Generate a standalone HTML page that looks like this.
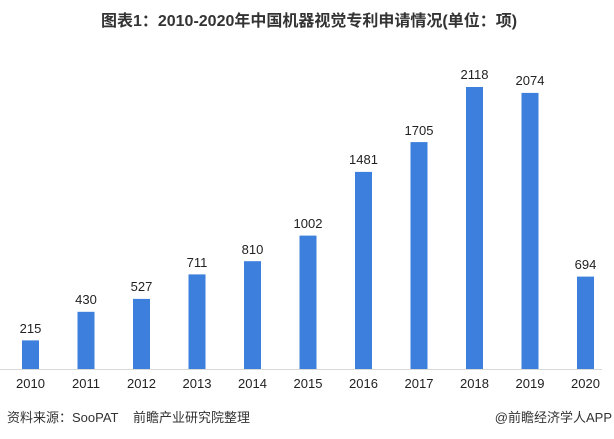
<!DOCTYPE html>
<html><head><meta charset="utf-8"><style>
body{margin:0;background:#fff;}
svg{display:block;font-family:"Liberation Sans","Noto Sans CJK SC",sans-serif;}
</style></head><body>
<svg width="614" height="439" viewBox="0 0 614 439" xmlns="http://www.w3.org/2000/svg">
<text x="309" y="26" text-anchor="middle" font-size="16" font-weight="bold" fill="#333">图表1：2010-2020年中国机器视觉专利申请情况(单位：项)</text>
<line x1="0" y1="369.5" x2="602" y2="369.5" stroke="#d9d9d9" stroke-width="1"/>
<g fill="#3c7fdc">
<rect x="22" y="340.4" width="17" height="28.6"/>
<rect x="77.5" y="311.8" width="17" height="57.2"/>
<rect x="133" y="298.9" width="17" height="70.1"/>
<rect x="188.5" y="274.4" width="17" height="94.6"/>
<rect x="244" y="261.2" width="17" height="107.8"/>
<rect x="299.5" y="235.6" width="17" height="133.4"/>
<rect x="355" y="171.9" width="17" height="197.1"/>
<rect x="410.5" y="142.1" width="17" height="226.9"/>
<rect x="466" y="87" width="17" height="282"/>
<rect x="521.5" y="92.9" width="17" height="276.1"/>
<rect x="577" y="276.6" width="17" height="92.4"/>
</g>
<g font-size="13" fill="#222" text-anchor="middle">
<text x="30.5" y="333">215</text>
<text x="86" y="304">430</text>
<text x="141.5" y="291">527</text>
<text x="197" y="267">711</text>
<text x="252.5" y="254">810</text>
<text x="308" y="228">1002</text>
<text x="363.5" y="164">1481</text>
<text x="419" y="135">1705</text>
<text x="474.5" y="79">2118</text>
<text x="530" y="85">2074</text>
<text x="585.5" y="269">694</text>
</g>
<g font-size="13" fill="#222" text-anchor="middle">
<text x="30.5" y="388">2010</text>
<text x="86" y="388">2011</text>
<text x="141.5" y="388">2012</text>
<text x="197" y="388">2013</text>
<text x="252.5" y="388">2014</text>
<text x="308" y="388">2015</text>
<text x="363.5" y="388">2016</text>
<text x="419" y="388">2017</text>
<text x="474.5" y="388">2018</text>
<text x="530" y="388">2019</text>
<text x="585.5" y="388">2020</text>
</g>
<text x="7" y="422" font-size="13" fill="#333">资料来源：SooPAT</text>
<text x="133" y="422" font-size="13" fill="#333">前瞻产业研究院整理</text>
<text x="612" y="422" font-size="13" fill="#333" text-anchor="end">@前瞻经济学人APP</text>
</svg>
</body></html>
